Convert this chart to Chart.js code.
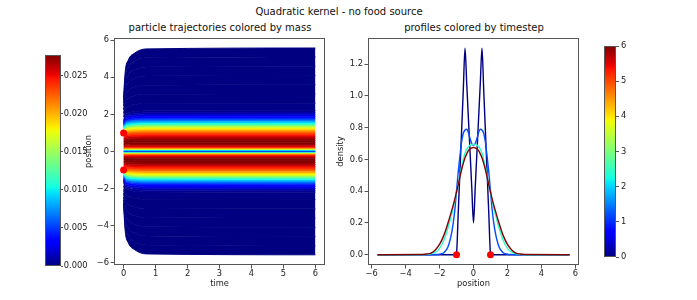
<!DOCTYPE html>
<html>
<head>
<meta charset="utf-8">
<script src="https://cdn.jsdelivr.net/npm/chart.js@4.4.0/dist/chart.umd.min.js"></script>
<style>
  body { margin: 0; background: #fff; }
  #fig { position: relative; width: 697px; height: 300px; overflow: hidden; font-family: 'DejaVu Sans', sans-serif; color: #111; }
  #fig canvas { position: absolute; }
  .ttl { position: absolute; width: 300px; text-align: center; font-size: 10px; line-height: 12px; white-space: nowrap; }
</style>
</head>
<body>
<div id="fig">
  <div class="ttl" style="left:189px; top:6px;">Quadratic kernel - no food source</div>
  <div class="ttl" style="left:70px; top:22px;">particle trajectories colored by mass</div>
  <div class="ttl" style="left:324px; top:22px;">profiles colored by timestep</div>
  <canvas id="cbMass" width="50" height="231" style="left:45px; top:45px;"></canvas>
  <canvas id="traj" width="280" height="300" style="left:60px; top:0px;"></canvas>
  <canvas id="prof" width="280" height="300" style="left:310px; top:0px;"></canvas>
  <canvas id="cbTime" width="40" height="231" style="left:604px; top:36px;"></canvas>
</div>
<script>
// ---- left panel: particle trajectories (position at each of trajTimes), bottom to top
const trajTimes = [0, 0.05, 0.15, 0.35, 0.7, 6];
const trajPaths = [
  [-2.9, -4.29, -4.94, -5.31, -5.53, -5.58],
  [-2.78, -3.99, -4.54, -4.87, -5.05, -5.1],
  [-2.62, -3.65, -4.13, -4.4, -4.56, -4.6],
  [-2.45, -3.31, -3.7, -3.94, -4.07, -4.1],
  [-2.25, -2.95, -3.28, -3.47, -3.57, -3.6],
  [-2.05, -2.6, -2.85, -3.0, -3.08, -3.1],
  [-1.85, -2.24, -2.42, -2.53, -2.59, -2.6],
  [-1.66, -1.94, -2.07, -2.15, -2.19, -2.2],
  [-1.6, -1.86, -1.98, -2.05, -2.09, -2.1],
  [-1.54, -1.78, -1.89, -1.95, -1.99, -2.0],
  [-1.48, -1.7, -1.8, -1.86, -1.89, -1.9],
  [-1.42, -1.62, -1.71, -1.76, -1.79, -1.8],
  [-1.36, -1.54, -1.62, -1.67, -1.69, -1.7],
  [-1.29, -1.45, -1.53, -1.57, -1.59, -1.6],
  [-1.22, -1.37, -1.43, -1.47, -1.49, -1.5],
  [-1.15, -1.28, -1.34, -1.38, -1.4, -1.4],
  [-1.08, -1.19, -1.25, -1.28, -1.3, -1.3],
  [-1.01, -1.11, -1.15, -1.18, -1.2, -1.2],
  [-0.94, -1.02, -1.06, -1.08, -1.1, -1.1],
  [-0.86, -0.93, -0.97, -0.99, -1, -1],
  [-0.78, -0.84, -0.87, -0.89, -0.9, -0.9],
  [-0.7, -0.75, -0.78, -0.79, -0.8, -0.8],
  [-0.62, -0.66, -0.68, -0.69, -0.7, -0.7],
  [-0.54, -0.57, -0.59, -0.59, -0.6, -0.6],
  [-0.46, -0.48, -0.49, -0.5, -0.5, -0.5],
  [-0.37, -0.39, -0.39, -0.4, -0.4, -0.4],
  [-0.28, -0.29, -0.3, -0.3, -0.3, -0.3],
  [-0.19, -0.2, -0.2, -0.2, -0.2, -0.2],
  [-0.15, -0.15, -0.15, -0.15, -0.15, -0.15],
  [-0.1, -0.1, -0.1, -0.1, -0.1, -0.1],
  [-0.05, -0.05, -0.05, -0.05, -0.05, -0.05],
  [0, 0, 0, 0, 0, 0],
  [0.05, 0.05, 0.05, 0.05, 0.05, 0.05],
  [0.1, 0.1, 0.1, 0.1, 0.1, 0.1],
  [0.15, 0.15, 0.15, 0.15, 0.15, 0.15],
  [0.19, 0.2, 0.2, 0.2, 0.2, 0.2],
  [0.28, 0.29, 0.3, 0.3, 0.3, 0.3],
  [0.37, 0.39, 0.39, 0.4, 0.4, 0.4],
  [0.46, 0.48, 0.49, 0.5, 0.5, 0.5],
  [0.54, 0.57, 0.59, 0.59, 0.6, 0.6],
  [0.62, 0.66, 0.68, 0.69, 0.7, 0.7],
  [0.7, 0.75, 0.78, 0.79, 0.8, 0.8],
  [0.78, 0.84, 0.87, 0.89, 0.9, 0.9],
  [0.86, 0.93, 0.97, 0.99, 1, 1],
  [0.94, 1.02, 1.06, 1.08, 1.1, 1.1],
  [1.01, 1.11, 1.15, 1.18, 1.2, 1.2],
  [1.08, 1.19, 1.25, 1.28, 1.3, 1.3],
  [1.15, 1.28, 1.34, 1.38, 1.4, 1.4],
  [1.22, 1.37, 1.43, 1.47, 1.49, 1.5],
  [1.29, 1.45, 1.53, 1.57, 1.59, 1.6],
  [1.36, 1.54, 1.62, 1.67, 1.69, 1.7],
  [1.42, 1.62, 1.71, 1.76, 1.79, 1.8],
  [1.48, 1.7, 1.8, 1.86, 1.89, 1.9],
  [1.54, 1.78, 1.89, 1.95, 1.99, 2.0],
  [1.6, 1.86, 1.98, 2.05, 2.09, 2.1],
  [1.66, 1.94, 2.07, 2.15, 2.19, 2.2],
  [1.85, 2.24, 2.42, 2.53, 2.59, 2.6],
  [2.05, 2.6, 2.85, 3.0, 3.08, 3.1],
  [2.25, 2.95, 3.28, 3.47, 3.57, 3.6],
  [2.45, 3.31, 3.7, 3.94, 4.07, 4.1],
  [2.62, 3.65, 4.13, 4.4, 4.56, 4.6],
  [2.78, 3.99, 4.54, 4.87, 5.05, 5.1],
  [2.9, 4.29, 4.94, 5.31, 5.53, 5.58]
];
const trajMass = [
  0, 0, 0, 0, 0, 0, 0,
  0.0003, 0.0008, 0.0017, 0.0028, 0.0042, 0.0061, 0.0083, 0.0105, 0.0135, 0.0166, 0.0188,
  0.0208, 0.0227, 0.0241, 0.0255, 0.0268, 0.0275, 0.0277, 0.0275, 0.0263, 0.0238,
  0.0208, 0.0166, 0.0097,
  0.0042,
  0.0097, 0.0166, 0.0208,
  0.0238, 0.0263, 0.0275, 0.0277, 0.0275, 0.0268, 0.0255, 0.0241, 0.0227, 0.0208,
  0.0188, 0.0166, 0.0135, 0.0105, 0.0083, 0.0061, 0.0042, 0.0028, 0.0017, 0.0008, 0.0003,
  0, 0, 0, 0, 0, 0, 0
];
const massRange = [0, 0.0277];
const markerPos = [-1, 1];

// ---- right panel: density profiles on a shared position grid
const profileX = [-5.65, -3, -2.75, -2.5, -2.25, -2, -1.75, -1.5, -1.25, -1.1, -1, -0.9, -0.8, -0.7, -0.6, -0.5, -0.4, -0.3, -0.2, -0.1,
  0, 0.1, 0.2, 0.3, 0.4, 0.5, 0.6, 0.7, 0.8, 0.9, 1, 1.1, 1.25, 1.5, 1.75, 2, 2.25, 2.5, 2.75, 3, 5.65];
const profileTimes = [0, 1.2, 2.4, 6];
const profileT0 = [0, 0, 0, 0, 0, 0, 0, 0, 0, 0, 0.01, 0.26, 0.52, 0.78, 1.04, 1.3, 1.08, 0.86, 0.64, 0.42,
  0.2, 0.42, 0.64, 0.86, 1.08, 1.3, 1.04, 0.78, 0.52, 0.26, 0.01, 0, 0, 0, 0, 0, 0, 0, 0, 0, 0];
const profileT1 = [0, 0, 0, 0, 0.001, 0.003, 0.012, 0.05, 0.16, 0.28, 0.4, 0.52, 0.62, 0.71, 0.765, 0.785, 0.79, 0.77, 0.73, 0.7,
  0.69, 0.7, 0.73, 0.77, 0.79, 0.785, 0.765, 0.71, 0.62, 0.52, 0.4, 0.28, 0.16, 0.05, 0.012, 0.003, 0.001, 0, 0, 0, 0];
const profileT2 = [0, 0, 0.002, 0.006, 0.016, 0.04, 0.09, 0.17, 0.27, 0.34, 0.39, 0.44, 0.5, 0.55, 0.6, 0.64, 0.665, 0.68, 0.69, 0.695,
  0.695, 0.695, 0.69, 0.68, 0.665, 0.64, 0.6, 0.55, 0.5, 0.44, 0.39, 0.34, 0.27, 0.17, 0.09, 0.04, 0.016, 0.006, 0.002, 0, 0];
const profileT6 = [0, 0.001, 0.004, 0.01, 0.03, 0.065, 0.12, 0.2, 0.29, 0.35, 0.395, 0.44, 0.49, 0.535, 0.575, 0.61, 0.635, 0.655, 0.667, 0.673,
  0.675, 0.673, 0.667, 0.655, 0.635, 0.61, 0.575, 0.535, 0.49, 0.44, 0.395, 0.35, 0.29, 0.2, 0.12, 0.065, 0.03, 0.01, 0.004, 0.001, 0];
const timeRange = [0, 6];

// ---- tick positions
const trajXTicks = [0, 1, 2, 3, 4, 5, 6];
const trajYTicks = [-6, -4, -2, 0, 2, 4, 6];
const profXTicks = [-6, -4, -2, 0, 2, 4, 6];
const profYTicks = [0, 0.2, 0.4, 0.6, 0.8, 1.0, 1.2];
const massTicks = [0, 0.005, 0.01, 0.015, 0.02, 0.025];
const timeTicks = [0, 1, 2, 3, 4, 5, 6];

// matplotlib 'jet'
function seg(v, xs, ys) {
  for (let i = 1; i < xs.length; i++) {
    if (v <= xs[i]) return ys[i - 1] + (ys[i] - ys[i - 1]) * (v - xs[i - 1]) / (xs[i] - xs[i - 1]);
  }
  return ys[ys.length - 1];
}
function jet(v) {
  v = Math.min(1, Math.max(0, v));
  const r = seg(v, [0, 0.35, 0.66, 0.89, 1], [0, 0, 1, 1, 0.5]);
  const g = seg(v, [0, 0.125, 0.375, 0.64, 0.91, 1], [0, 0, 1, 1, 0, 0]);
  const b = seg(v, [0, 0.11, 0.34, 0.65, 1], [0.5, 1, 1, 0, 0]);
  return 'rgb(' + Math.round(r * 255) + ',' + Math.round(g * 255) + ',' + Math.round(b * 255) + ')';
}

const minus = s => String(s).replace('-', '\u2212');
const INK = '#222';
const LINE = '#555';

Chart.defaults.font.family = "'DejaVu Sans', sans-serif";
Chart.defaults.font.size = 8.3;
Chart.defaults.color = INK;

function axis(pos, min, max, ticks, fmt, size, title, titlePad, tick) {
  tick = tick || {len: 3.5, pad: 1.5};
  return {
    type: 'linear', position: pos, min: min, max: max,
    afterBuildTicks: s => { s.ticks = ticks.map(v => ({value: v})); },
    afterFit: s => { if (pos === 'bottom') s.height = size; else s.width = size; },
    grid: { drawOnChartArea: false, drawTicks: true, tickLength: tick.len, color: LINE, lineWidth: 1 },
    border: { display: false },
    ticks: { callback: v => fmt(v), padding: tick.pad, color: INK, autoSkip: false, maxRotation: 0 },
    title: title ? { display: true, text: title, color: INK, font: {size: 8.3}, padding: titlePad } : { display: false }
  };
}

const framePlugin = {
  id: 'frame',
  afterDraw(chart) {
    const {ctx, chartArea: a} = chart;
    ctx.save();
    ctx.strokeStyle = LINE;
    ctx.lineWidth = 1;
    ctx.strokeRect(Math.round(a.left) + 0.5, Math.round(a.top) + 0.5, Math.round(a.right - a.left) - 1, Math.round(a.bottom - a.top) - 1);
    ctx.restore();
  }
};

const gradientPlugin = {
  id: 'cbar',
  beforeDatasetsDraw(chart) {
    const {ctx, chartArea: a} = chart;
    const g = ctx.createLinearGradient(0, a.bottom, 0, a.top);
    for (let i = 0; i <= 64; i++) g.addColorStop(i / 64, jet(i / 64));
    ctx.save();
    ctx.fillStyle = g;
    ctx.fillRect(a.left, a.top, a.right - a.left, a.bottom - a.top);
    ctx.restore();
  }
};

const base = {
  responsive: false,
  animation: false,
  events: [],
  plugins: { legend: { display: false }, tooltip: { enabled: false } }
};

// trajectories: each band between neighbouring particles filled with the mass colour
const trajSets = trajPaths.map((path, i) => {
  const m = i === 0 ? trajMass[0] : (trajMass[i] + trajMass[i - 1]) / 2;
  return {
    data: path.map((y, k) => ({x: trajTimes[k], y: y})),
    borderColor: jet(trajMass[i] / massRange[1]),
    backgroundColor: jet(m / massRange[1]),
    borderWidth: 1,
    pointRadius: 0,
    fill: i === 0 ? false : '-1',
    cubicInterpolationMode: 'monotone',
    order: 1
  };
});
trajSets.push({
  data: markerPos.map(p => ({x: 0, y: p})),
  showLine: false, fill: false, pointRadius: 3.5, borderWidth: 0,
  backgroundColor: '#ff0000', pointBackgroundColor: '#ff0000', order: -1
});

new Chart(document.getElementById('traj'), {
  type: 'line',
  data: { datasets: trajSets },
  options: Object.assign({}, base, {
    layout: { padding: {left: 0, right: 15, top: 38, bottom: 0} },
    scales: {
      x: axis('bottom', -0.3, 6.3, trajXTicks, v => minus(v), 35, 'time', {top: 0, bottom: 11}, {len: 3.5, pad: 0.5}),
      y: axis('left', -6.13, 6.12, trajYTicks, v => minus(v), 54, 'position', {top: 24, bottom: 0})
    }
  }),
  plugins: [framePlugin]
});

const profSets = [profileT0, profileT1, profileT2, profileT6].map((ys, i) => ({
  data: ys.map((y, k) => ({x: profileX[k], y: y})),
  borderColor: jet(profileTimes[i] / timeRange[1]),
  borderWidth: 1.4,
  pointRadius: 0,
  fill: false,
  cubicInterpolationMode: 'monotone',
  order: 10 - i
}));
profSets.push({
  data: markerPos.map(p => ({x: p, y: 0})),
  showLine: false, fill: false, pointRadius: 3.5, borderWidth: 0,
  backgroundColor: '#ff0000', pointBackgroundColor: '#ff0000', order: -1
});

new Chart(document.getElementById('prof'), {
  type: 'line',
  data: { datasets: profSets },
  options: Object.assign({}, base, {
    layout: { padding: {left: 0, right: 11, top: 38, bottom: 0} },
    scales: {
      x: axis('bottom', -6.21, 6.21, profXTicks, v => minus(v), 35, 'position', {top: 0, bottom: 11}, {len: 3.5, pad: 0.5}),
      y: axis('left', -0.065, 1.365, profYTicks, v => v.toFixed(1), 58, 'density', {top: 26, bottom: 0})
    }
  }),
  plugins: [framePlugin]
});

function colorbar(id, range, ticks, fmt, width, tick) {
  new Chart(document.getElementById(id), {
    type: 'scatter',
    data: { datasets: [{ data: [] }] },
    options: Object.assign({}, base, {
      layout: { padding: {left: 0, right: 0, top: 10, bottom: 10} },
      scales: {
        x: { display: false, min: 0, max: 1 },
        y: axis('right', range[0], range[1], ticks, fmt, width, null, null, tick)
      }
    }),
    plugins: [gradientPlugin, framePlugin]
  });
}
colorbar('cbMass', massRange, massTicks, v => v.toFixed(3), 34, {len: 2, pad: 0.8});
colorbar('cbTime', timeRange, timeTicks, v => String(v), 28, {len: 3, pad: 2});
</script>
</body>
</html>
